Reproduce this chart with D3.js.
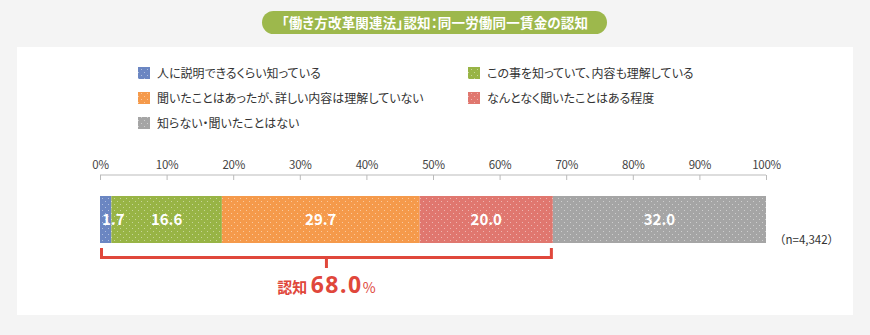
<!DOCTYPE html>
<html><head><meta charset="utf-8">
<script src="https://cdn.jsdelivr.net/npm/d3@7"></script>
<style>
html,body{margin:0;padding:0;background:#f4f4f4;}
svg{display:block;font-family:"Noto Sans CJK JP","Noto Sans",sans-serif;}
.palt{font-feature-settings:"palt";}
</style></head>
<body><svg id="c" width="870" height="335"></svg>
<script>
const title = "「働き方改革関連法」認知：同一労働同一賃金の認知";
const categories = ["人に説明できるくらい知っている","この事を知っていて、内容も理解している","聞いたことはあったが、詳しい内容は理解していない","なんとなく聞いたことはある程度","知らない・聞いたことはない"];
const values = [1.7, 16.6, 29.7, 20.0, 32.0];
const colors = ["#6b86c2","#98b445","#f59a4b","#e0776f","#a5a5a5"];
const tickValues = [0,10,20,30,40,50,60,70,80,90,100];
const recognized = 68.0;
const sampleNote = "（n=4,342）";

const svg = d3.select("#c");
svg.append("rect").attr("x",0).attr("y",0).attr("width",870).attr("height",335).attr("fill","#f4f4f4");
svg.append("rect").attr("x",17).attr("y",47).attr("width",836).attr("height",268).attr("fill","#fff");

// title pill
svg.append("rect").attr("x",262).attr("y",11).attr("width",345).attr("height",23).attr("rx",11.5).attr("fill","#9db84c");
svg.append("text").attr("class","palt").attr("x",435).attr("y",27.5).attr("text-anchor","middle").attr("fill","#fff")
  .attr("font-size",13.5).attr("font-weight","bold").attr("letter-spacing","0.2").text(title);

// patterns
const defs = svg.append("defs");
colors.forEach((c,i)=>{
  const p = defs.append("pattern").attr("id","pat"+i).attr("patternUnits","userSpaceOnUse")
    .attr("width",6).attr("height",6);
  p.append("rect").attr("width",6).attr("height",6).attr("fill",c);
  p.append("rect").attr("x",0).attr("y",0).attr("width",1).attr("height",1).attr("fill","#fff").attr("opacity",0.45);
  p.append("rect").attr("x",3).attr("y",3).attr("width",1).attr("height",1).attr("fill","#fff").attr("opacity",0.45);
});

// legend
const legendPos = [[138,67],[468,67],[138,92],[468,92],[138,117]];
categories.forEach((c,i)=>{
  const [lx,ly] = legendPos[i];
  svg.append("rect").attr("x",lx).attr("y",ly).attr("width",12).attr("height",12).attr("fill","url(#pat"+i+")");
  svg.append("text").attr("class","palt").attr("x",lx+19).attr("y",ly+10.5).attr("font-size",12).attr("fill","#333").text(c);
});

// scale & axis
const x = d3.scaleLinear().domain([0,100]).range([100,766]);
const axis = d3.axisTop(x).tickValues(tickValues).tickFormat(d=>d+"%").tickSize(-5).tickSizeOuter(0);
const ag = svg.append("g").attr("transform","translate(0,175)").call(axis);
ag.select(".domain").attr("stroke","#bbb").attr("d","M100,0H766");
ag.selectAll(".tick line").attr("stroke","#bbb");
ag.selectAll(".tick text").attr("fill","#444").attr("font-size",11.5).attr("y",-6)
  .attr("font-family","'Noto Sans CJK JP',sans-serif").attr("letter-spacing","-0.3");

// bars
let cum = 0;
const segs = values.map((v,i)=>{const s={i,v,x0:cum,x1:cum+v};cum+=v;return s;});
const barY = 196, barH = 47;
svg.selectAll("rect.seg").data(segs).enter().append("rect").attr("class","seg")
  .attr("x",d=>x(d.x0)).attr("y",barY).attr("width",d=>x(d.x1)-x(d.x0)).attr("height",barH)
  .attr("fill",d=>"url(#pat"+d.i+")");
svg.selectAll("text.lbl").data(segs).enter().append("text").attr("class","lbl")
  .attr("x",d=> (x(d.x1)-x(d.x0))<20 ? x(d.x0)+2 : (x(d.x0)+x(d.x1))/2)
  .attr("text-anchor",d=> (x(d.x1)-x(d.x0))<20 ? "start":"middle")
  .attr("y",barY+barH/2+5.5).attr("fill","#fff").attr("font-size",15).attr("font-weight","bold")
  .text(d=>d.v.toFixed(1));

svg.append("text").attr("x",774).attr("y",244).attr("font-size",11.5).attr("fill","#333").text(sampleNote);

// bracket
const red = "#e0473b";
const bx0 = x(0)+1.5, bx1 = x(recognized)-1.5, by = 257.5;
svg.append("path").attr("d",`M${bx0},248V${by}H${bx1}V248`).attr("fill","none").attr("stroke",red).attr("stroke-width",3);
const mid = (bx0+bx1)/2;
svg.append("line").attr("x1",mid).attr("x2",mid).attr("y1",by).attr("y2",268).attr("stroke",red).attr("stroke-width",3);
const t = svg.append("text").attr("x",mid).attr("y",293).attr("text-anchor","middle").attr("fill",red).attr("font-weight","bold");
t.append("tspan").attr("font-size",15).text("認知 ");
t.append("tspan").attr("font-size",23).attr("letter-spacing","1.5").attr("font-family","'Noto Sans',sans-serif").text(recognized.toFixed(1));
t.append("tspan").attr("font-size",14).attr("font-weight","normal").text("%");
</script></body></html>
